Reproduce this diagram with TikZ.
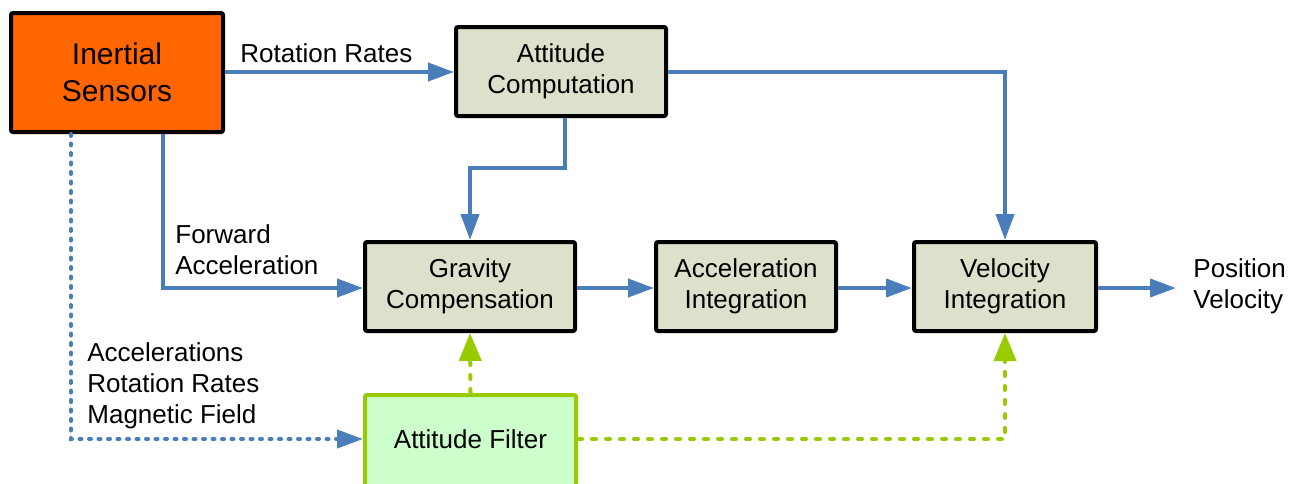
\documentclass[tikz,border=0pt]{standalone}
\usepackage{fontspec}
\setmainfont{Liberation Sans}
\usetikzlibrary{arrows.meta}
\definecolor{lblue}{HTML}{4A7EBB}
\definecolor{lgreen}{HTML}{99CC00}
\definecolor{boxfill}{HTML}{DDE0CA}
\definecolor{sensfill}{HTML}{FF6600}
\definecolor{filtfill}{HTML}{CCFFCC}
\begin{document}
\begin{tikzpicture}[x=0.5pt,y=-0.5pt,
  blk/.style={draw=black, line width=2pt, fill=boxfill, rounded corners=1pt,
    inner sep=0pt, align=center, minimum height=44.5pt,
    font=\fontsize{13}{15.5}\selectfont},
  lbl/.style={inner sep=0pt, align=left, anchor=west, font=\fontsize{13}{15.5}\selectfont},
  flow/.style={draw=lblue, line width=2pt, -{Triangle[length=13pt,width=9pt]}},
  dflow/.style={flow, line cap=round, dash pattern=on 1pt off 3.75pt},
  gflow/.style={draw=lgreen, line width=2pt, line cap=round, dash pattern=on 2pt off 5pt,
    -{Triangle[length=14pt,width=11pt,line cap=butt]}}
]
\clip (0,0) rectangle (1300,483);
\fill[white] (0,0) rectangle (1300,483);

\node[blk, fill=sensfill, minimum width=106pt, minimum height=59.5pt,
  font=\fontsize{15}{18.5}\selectfont] (IS) at (117,72.5) {Inertial\\Sensors};
\node[blk, minimum width=105pt] (AC) at (561,71.5) {Attitude\\Computation};
\node[blk, minimum width=105pt] (GC) at (470,286.5) {Gravity\\Compensation};
\node[blk, minimum width=90pt] (AI) at (746,286.5) {Acceleration\\Integration};
\node[blk, minimum width=91pt] (VI) at (1005,286.5) {Velocity\\Integration};
\node[blk, draw=lgreen, fill=filtfill, minimum width=105.5pt, minimum height=56pt,
  text depth=12pt] (AF) at (470.5,451) {Attitude Filter};

\node[lbl, inner xsep=8.5pt, anchor=west] (PV) at (1176,286) {Position\\Velocity};

\node[lbl] (lrr) at (240,53) {Rotation Rates};
\node[lbl] (lfa) at (175,250) {Forward\\Acceleration};
\node[lbl] (lsens) at (87,386) {Accelerations\\Rotation Rates\\Magnetic Field};

\draw[flow] (IS.east |- 0,72) -- (AC.west |- 0,72);
\draw[flow] ([xshift=2pt]AC.south) -- ++(0,50) -| (GC.north);
\draw[flow] (AC.east |- 0,72) -| (VI.north);
\draw[flow] ([xshift=23pt]IS.south) |- (GC.west |- 0,288);
\draw[flow] (GC.east |- 0,288) -- (AI.west |- 0,288);
\draw[flow] (AI.east |- 0,288) -- (VI.west |- 0,288);
\draw[flow] (VI.east |- 0,288) -- (PV.west |- 0,288);
\draw[dflow] ([xshift=-23pt]IS.south) |- (AF.west |- 0,439);
\draw[gflow] (AF.north) -- (GC.south);
\draw[gflow] (AF.east |- 0,439) -| (VI.south);
\end{tikzpicture}
\end{document}
